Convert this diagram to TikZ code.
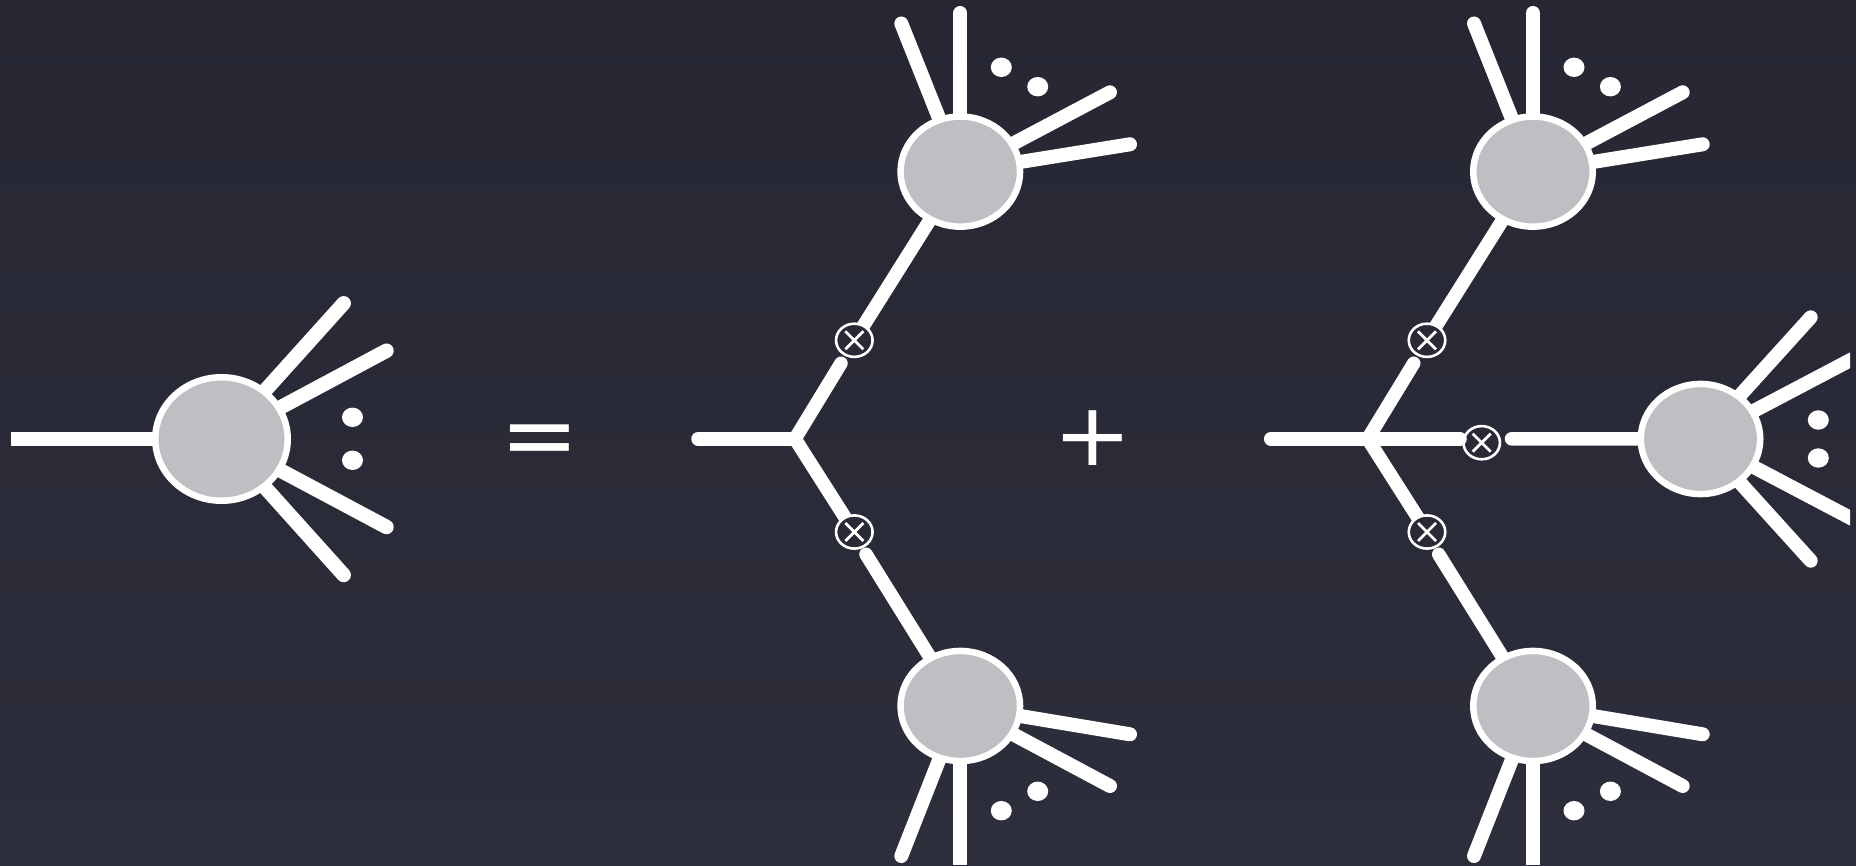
\documentclass[tikz,border=0pt]{standalone}
\usepackage{fontspec}
\setmainfont{DejaVu Sans}
\usetikzlibrary{shapes.geometric}
\pgfdeclarelayer{backdrop}
\pgfdeclarelayer{wires}
\pgfsetlayers{backdrop,wires,main}
\definecolor{bgtop}{HTML}{262733}
\definecolor{bgbot}{HTML}{2D2E3B}
\definecolor{bgmid}{HTML}{292A36}
\definecolor{blobgrey}{HTML}{BFBFC3}
\tikzset{
  leg/.style={draw=white,line width=14pt,line cap=round},
  stem/.style={leg,line width=13.5pt},
  legbutt/.style={draw=white,line width=14pt,line cap=butt},
  blob/.style={ellipse,draw=white,fill=blobgrey,line width=6.5pt,inner sep=0pt,outer sep=0pt,minimum width=119.5pt,minimum height=110.1pt},
  bigblob/.style={blob,minimum width=132.5pt,minimum height=123.5pt},
  dotmark/.style={ellipse,fill=white,inner sep=0pt,outer sep=0pt,minimum width=21pt,minimum height=19.4pt},
  xmark/.style={ellipse,draw=white,fill=bgmid,line width=2.6pt,inner sep=0pt,outer sep=0pt,minimum width=36.5pt,minimum height=33.2pt,
    path picture={\draw[white,line width=2.8pt] ([xshift=-9pt,yshift=-9pt]path picture bounding box.center) -- ([xshift=9pt,yshift=9pt]path picture bounding box.center) ([xshift=-9pt,yshift=9pt]path picture bounding box.center) -- ([xshift=9pt,yshift=-9pt]path picture bounding box.center);}},
  sign/.style={text=white,inner sep=0pt,font=\fontsize{94}{94}\selectfont}
}
\newcommand{\treeBranches}{
  \node[blob] (bt) at (960.3,171.6) {};
  \node[blob] (bb) at (960.3,706) {};
  \node[xmark] (xt) at (854.3,340.3) {};
  \node[xmark] (xb) at (854.3,532) {};
  \node[dotmark] (dt1) at (1001.3,67.3) {};
  \node[dotmark] (dt2) at (1037.7,86.7) {};
  \node[dotmark] (db1) at (1001.3,810.7) {};
  \node[dotmark] (db2) at (1037.7,791.3) {};
  \coordinate (v) at (795,438.8);
  \coordinate (h) at (698,438.8);
  \coordinate (xtl) at (841,363.3);
  \coordinate (xbl) at (866,554.3);
  \coordinate (ta) at (901.3,23.5);
  \coordinate (tb) at (960.3,13);
  \coordinate (tc) at (1110,92.3);
  \coordinate (td) at (1130,144.3);
  \coordinate (ba) at (901.3,856);
  \coordinate (bbb) at (960.3,865);
  \coordinate (bc) at (1110,786);
  \coordinate (bd) at (1130,734.3);
  \begin{pgfonlayer}{wires}
    \draw[stem] (h) -- (v);
    \draw[stem,miter limit=10] (xtl) -- (v) -- (xb.center);
    \draw[stem] (xt.center) -- (bt.center);
    \draw[stem] (xbl) -- (bb.center);
    \draw[leg] (bt.center) -- (ta);
    \draw[leg] (bt.center) -- (tb);
    \draw[leg] (bt.center) -- (tc);
    \draw[leg] (bt.center) -- (td);
    \draw[leg] (bb.center) -- (ba);
    \draw[legbutt] (bb.center) -- (bbb);
    \draw[leg] (bb.center) -- (bc);
    \draw[leg] (bb.center) -- (bd);
  \end{pgfonlayer}
}
\begin{document}
\begin{tikzpicture}[x=1pt,y=-1pt]
  \useasboundingbox (0,0) rectangle (1856,866);
  \begin{pgfonlayer}{backdrop}
    \shade[top color=bgtop,bottom color=bgbot] (0,0) rectangle (1856,866);
  \end{pgfonlayer}

  % left blob
  \node[bigblob] (b0) at (221.5,439) {};
  \node[dotmark] (d01) at (352.5,417.3) {};
  \node[dotmark] (d02) at (352.5,460.3) {};
  \coordinate (l0) at (11,439);
  \coordinate (t01) at (343.7,303.3);
  \coordinate (t02) at (386.5,350.7);
  \coordinate (t03) at (386.5,527);
  \coordinate (t04) at (343.7,575);
  \begin{pgfonlayer}{wires}
    \draw[legbutt] (l0) -- (b0.center);
    \draw[leg,line width=14.5pt] (b0.center) -- (t01);
    \draw[leg,line width=14.5pt] (b0.center) -- (t02);
    \draw[leg,line width=14.5pt] (b0.center) -- (t03);
    \draw[leg,line width=14.5pt] (b0.center) -- (t04);
  \end{pgfonlayer}

  % signs
  \node[sign] (eq) at (539.5,446) {=};
  \node[sign,yscale=0.93] (pl) at (1093.3,438) {+};

  % middle tree
  \treeBranches

  % right tree
  \begin{scope}[shift={(572.7,0)},name prefix=r-]
    \treeBranches
  \end{scope}

  % third branch of the right tree
  \node[xmark] (xm) at (1481.7,442.7) {};
  \node[blob] (bm) at (1700.5,439) {};
  \node[dotmark] (dm1) at (1818.3,420) {};
  \node[dotmark] (dm2) at (1818.3,458) {};
  \coordinate (xml) at (1460,438.8);
  \coordinate (xmr) at (1511.5,438.8);
  \coordinate (m1) at (1810.7,317.3);
  \coordinate (m2) at (1880,344.5);
  \coordinate (m3) at (1880,533.5);
  \coordinate (m4) at (1810.7,560.7);
  \draw[stem] (r-v) -- (xml);
  \begin{pgfonlayer}{wires}
    \draw[stem] (xmr) -- (bm.center);
    \begin{scope}
      \clip (0,0) rectangle (1850,866);
      \draw[leg] (bm.center) -- (m1);
      \draw[leg] (bm.center) -- (m2);
      \draw[leg] (bm.center) -- (m3);
      \draw[leg] (bm.center) -- (m4);
    \end{scope}
  \end{pgfonlayer}
\end{tikzpicture}
\end{document}
